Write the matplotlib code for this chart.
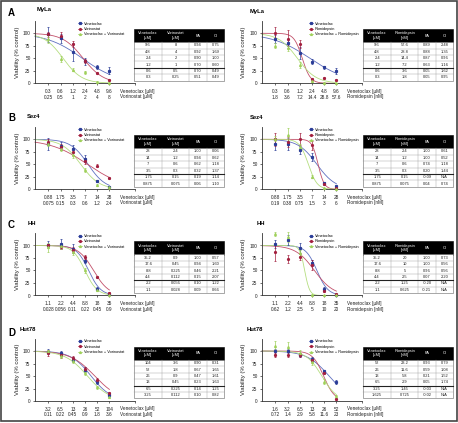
import numpy as np
import matplotlib
matplotlib.use('Agg')
import matplotlib.pyplot as plt
from matplotlib.patches import Rectangle
from matplotlib.lines import Line2D

plt.rcParams['font.family'] = ['Liberation Sans', 'DejaVu Sans']

# ---------------- data ----------------
positions = [1, 2, 3, 4, 5, 6]
yticks = [0, 25, 50, 75, 100]

# A left: MyLa, venetoclax + vorinostat
A1_xven = ["0.3", "0.6", "1.2", "2.4", "4.8", "9.6"]
A1_xdrug = ["0.25", "0.5", "1", "2", "4", "8"]
A1_ven = [98, 90, 63, 44, 32, 25]
A1_ven_err = [15, 9, 18, 7, 4, 7]
A1_drug = [98, 95, 78, 45, 20, 7]
A1_drug_err = [5, 7, 6, 4, 2, 2]
A1_combo = [89, 48, 27, 22, 3, 1]
A1_combo_err = [8, 6, 3, 3, 2, 1]
A1_fit_x50 = [3.78, 3.85, 2.2]
A1_fit_slope = [0.685, 1.2, 1.3]
A1_table = [["9.6", "8", "0.94", "0.75"], ["4.8", "4", "0.92", "1.69"],
            ["2.4", "2", "0.90", "1.00"], ["1.2", "1", "0.70", "0.60"],
            ["0.6", "0.5", "0.70", "0.49"], ["0.3", "0.25", "0.51", "0.49"]]

# A right: MyLa, venetoclax + romidepsin
A2_xven = ["0.3", "0.6", "1.2", "2.4", "4.8", "9.6"]
A2_xdrug = ["1.8", "3.6", "7.2", "14.4", "28.8", "57.6"]
A2_ven = [89, 80, 60, 43, 32, 25]
A2_ven_err = [8, 6, 12, 5, 3, 6]
A2_drug = [100, 88, 78, 8, 11, 7]
A2_drug_err = [12, 18, 8, 3, 2, 2]
A2_combo = [75, 70, 36, 5, 1, 0]
A2_combo_err = [5, 5, 6, 2, 1, 1]
A2_fit_x50 = [3.83, 3.2, 2.8]
A2_fit_slope = [0.64, 3.0, 1.3]
A2_table = [["9.6", "57.6", "0.89", "2.48"], ["4.8", "28.8", "0.88", "1.35"],
            ["2.4", "14.4", "0.87", "0.96"], ["1.2", "7.2", "0.63", "1.16"],
            ["0.6", "3.6", "0.05", "1.62"], ["0.3", "1.8", "0.05", "0.95"]]

# B left: Sez4, venetoclax + vorinostat
B1_xven = ["0.88", "1.75", "3.5", "7", "14", "28"]
B1_xdrug = ["0.075", "0.15", "0.3", "0.6", "1.2", "2.4"]
B1_ven = [91, 87, 81, 61, 16, 5]
B1_ven_err = [12, 8, 8, 7, 2, 1]
B1_drug = [95, 85, 75, 56, 47, 23]
B1_drug_err = [5, 6, 7, 6, 3, 2]
B1_combo = [91, 81, 68, 38, 8, 4]
B1_combo_err = [4, 5, 6, 4, 2, 3]
B1_fit_x50 = [4.25, 4.2, 3.65]
B1_fit_slope = [1.4, 0.65, 1.3]
B1_table = [["28", "2.4", "1.00", "0.06"], ["14", "1.2", "0.94", "0.62"],
            ["7", "0.6", "0.62", "1.18"], ["3.5", "0.3", "0.32", "1.37"],
            ["1.75", "0.15", "0.19", "1.14"], ["0.875", "0.075", "0.06", "1.10"]]

# B right: Sez4, venetoclax + romidepsin
B2_xven = ["0.88", "1.75", "3.5", "7", "14", "28"]
B2_xdrug = ["0.19", "0.38", "0.75", "1.5", "3", "6"]
B2_ven = [91, 90, 78, 65, 12, 6]
B2_ven_err = [12, 12, 8, 8, 3, 1]
B2_drug = [100, 95, 100, 88, 10, 2]
B2_drug_err = [13, 10, 12, 9, 2, 1]
B2_combo = [101, 108, 85, 25, 2, 1]
B2_combo_err = [5, 15, 6, 3, 1, 1]
B2_fit_x50 = [4.4, 4.5, 3.7]
B2_fit_slope = [1.3, 4.0, 2.8]
B2_table = [["28", "2.4", "1.00", "0.61"], ["14", "1.2", "1.00", "0.52"],
            ["7", "0.6", "0.74", "1.18"], ["3.5", "0.3", "0.20", "1.44"],
            ["1.75", "0.15", "-0.09", "N/A"], ["0.875", "0.075", "0.04", "0.74"]]

# C left: HH, venetoclax + vorinostat
C1_xven = ["1.1", "2.2", "4.4", "8.8", "18", "35"]
C1_xdrug = ["0.028", "0.056", "0.11", "0.22", "0.45", "0.9"]
C1_ven = [101, 103, 93, 69, 13, 3]
C1_ven_err = [7, 10, 9, 5, 3, 1]
C1_drug = [100, 96, 91, 76, 36, 5]
C1_drug_err = [3, 4, 5, 4, 2, 2]
C1_combo = [96, 99, 86, 50, 10, 1]
C1_combo_err = [9, 6, 6, 5, 2, 1]
C1_fit_x50 = [4.3, 4.7, 4.0]
C1_fit_slope = [2.0, 1.6, 2.0]
C1_table = [["35.2", "0.9", "1.00", "0.57"], ["17.6", "0.45", "0.94", "1.60"],
            ["8.8", "0.225", "0.46", "2.21"], ["4.4", "0.112", "0.15", "2.07"],
            ["2.2", "0.056", "0.10", "1.22"], ["1.1", "0.028", "0.09", "0.66"]]

# C right: HH, venetoclax + romidepsin
C2_xven = ["1.1", "2.2", "4.4", "8.8", "18", "35"]
C2_xdrug = ["0.62", "1.2", "2.5", "5", "10", "20"]
C2_ven = [103, 110, 95, 64, 13, 1]
C2_ven_err = [8, 10, 10, 6, 3, 1]
C2_drug = [87, 72, 77, 60, 8, 3]
C2_drug_err = [18, 8, 6, 10, 2, 1]
C2_combo = [122, 116, 85, 1, 0, 0]
C2_combo_err = [4, 10, 6, 1, 0, 0]
C2_fit_x50 = [4.4, 4.2, 3.4]
C2_fit_slope = [2.2, 1.3, 5.0]
C2_table = [["35.2", "20", "1.00", "0.73"], ["17.6", "10", "1.00", "0.56"],
            ["8.8", "5", "0.96", "0.56"], ["4.4", "2.5", "0.07", "2.20"],
            ["2.2", "1.25", "-0.20", "N/A"], ["1.1", "0.625", "-0.21", "N/A"]]

# D left: Hut78, venetoclax + vorinostat
D1_xven = ["3.2", "6.5", "13", "26", "52", "104"]
D1_xdrug = ["0.11", "0.22", "0.45", "0.9", "1.8", "3.6"]
D1_ven = [99, 96, 83, 63, 39, 12]
D1_ven_err = [5, 5, 5, 5, 4, 3]
D1_drug = [96, 92, 86, 64, 43, 16]
D1_drug_err = [6, 5, 4, 4, 3, 3]
D1_combo = [100, 90, 80, 56, 28, 8]
D1_combo_err = [3, 4, 4, 3, 3, 2]
D1_fit_x50 = [4.5, 4.8, 4.2]
D1_fit_slope = [1.2, 1.0, 1.1]
D1_table = [["104", "3.6", "0.90", "0.31"], ["52", "1.8", "0.67", "1.65"],
            ["26", "0.9", "0.47", "1.61"], ["13", "0.45", "0.23", "1.63"],
            ["6.5", "0.225", "0.14", "1.25"], ["3.25", "0.112", "0.10", "0.82"]]

# D right: Hut78, venetoclax + romidepsin
D2_xven = ["1.6", "3.2", "6.5", "13", "26", "52"]
D2_xdrug = ["0.72", "1.4", "2.9", "5.8", "11.6", "23"]
D2_ven = [100, 100, 93, 85, 60, 39]
D2_ven_err = [5, 4, 4, 4, 3, 4]
D2_drug = [93, 93, 92, 82, 57, 5]
D2_drug_err = [4, 5, 4, 3, 3, 2]
D2_combo = [111, 109, 97, 79, 39, 10]
D2_combo_err = [10, 10, 5, 6, 5, 3]
D2_fit_x50 = [5.4, 4.95, 4.8]
D2_fit_slope = [1.1, 2.2, 1.6]
D2_table = [["52", "23.2", "0.93", "0.79"], ["26", "11.6", "0.59", "1.08"],
            ["13", "5.8", "0.21", "1.52"], ["6.5", "2.9", "0.05", "1.74"],
            ["3.25", "1.45", "-0.03", "N/A"], ["1.625", "0.725", "-0.02", "N/A"]]

cells = ["MyLa", "Sez4", "HH", "Hut78"]
letters = ["A", "B", "C", "D"]
drugs = ["Vorinostat", "Romidepsin"]
drug_units = ["[µM]", "[nM]"]

# ---------------- styling ----------------
W, H = 458, 423
fig = plt.figure(figsize=(W / 100, H / 100), dpi=100)
fig.patch.set_facecolor('white')

def fx(x):
    return x / W

def fy(y):
    return 1 - y / H

pt_col = ['#2b3d97', '#a3203f', '#9fd05a']
ln_col = ['#5f70c0', '#c2506a', '#b5de80']
markers = ['s', 'o', '^']
FS = 3.4
LFS = 2.8

zero_y = [83.3, 189.3, 295.5, 401.0]
ax_x0 = [35.0, 262.0]
title_pos = [[(37, 10), (250, 11)], [(27, 116), (250, 117)],
             [(28, 223), (257, 223)], [(20, 329), (247, 329)]]
letter_pos = [(8, 13), (8, 118), (8, 225), (8, 333)]
table_x0 = [134.0, 363.0]
col_w = [28.3, 26.7, 17.7, 17.3]

data = {
    (0, 0): (A1_xven, A1_xdrug, A1_ven, A1_ven_err, A1_drug, A1_drug_err, A1_combo, A1_combo_err, A1_fit_x50, A1_fit_slope, A1_table),
    (0, 1): (A2_xven, A2_xdrug, A2_ven, A2_ven_err, A2_drug, A2_drug_err, A2_combo, A2_combo_err, A2_fit_x50, A2_fit_slope, A2_table),
    (1, 0): (B1_xven, B1_xdrug, B1_ven, B1_ven_err, B1_drug, B1_drug_err, B1_combo, B1_combo_err, B1_fit_x50, B1_fit_slope, B1_table),
    (1, 1): (B2_xven, B2_xdrug, B2_ven, B2_ven_err, B2_drug, B2_drug_err, B2_combo, B2_combo_err, B2_fit_x50, B2_fit_slope, B2_table),
    (2, 0): (C1_xven, C1_xdrug, C1_ven, C1_ven_err, C1_drug, C1_drug_err, C1_combo, C1_combo_err, C1_fit_x50, C1_fit_slope, C1_table),
    (2, 1): (C2_xven, C2_xdrug, C2_ven, C2_ven_err, C2_drug, C2_drug_err, C2_combo, C2_combo_err, C2_fit_x50, C2_fit_slope, C2_table),
    (3, 0): (D1_xven, D1_xdrug, D1_ven, D1_ven_err, D1_drug, D1_drug_err, D1_combo, D1_combo_err, D1_fit_x50, D1_fit_slope, D1_table),
    (3, 1): (D2_xven, D2_xdrug, D2_ven, D2_ven_err, D2_drug, D2_drug_err, D2_combo, D2_combo_err, D2_fit_x50, D2_fit_slope, D2_table),
}


def draw_table(x0, ytop, header, rows):
    header_h = 13.5
    row_h = 6.4
    total_w = sum(col_w)
    fig.patches.append(Rectangle((fx(x0), fy(ytop + header_h)), fx(total_w), header_h / H,
                                 transform=fig.transFigure, facecolor='black',
                                 edgecolor='black', lw=0.4))
    cx = x0
    for j, w in enumerate(col_w):
        fig.text(fx(cx + w / 2), fy(ytop + header_h / 2), header[j], color='white',
                 fontsize=2.9, ha='center', va='center', linespacing=1.15)
        cx += w
    yb = ytop + header_h
    body_h = row_h * len(rows)
    fig.patches.append(Rectangle((fx(x0), fy(yb + body_h)), fx(total_w), body_h / H,
                                 transform=fig.transFigure, facecolor='white',
                                 edgecolor='#666666', lw=0.4))
    cx = x0
    for j, w in enumerate(col_w[:-1]):
        cx += w
        fig.lines.append(Line2D([fx(cx), fx(cx)], [fy(yb), fy(yb + body_h)],
                                transform=fig.transFigure, color='#9a9a9a', lw=0.3))
    for i, row in enumerate(rows):
        ry = yb + i * row_h
        if i > 0:
            thick = (i == 4)
            fig.lines.append(Line2D([fx(x0), fx(x0 + total_w)], [fy(ry), fy(ry)],
                                    transform=fig.transFigure,
                                    color='#222222' if thick else '#9a9a9a',
                                    lw=0.8 if thick else 0.3))
        cx = x0
        for j, w in enumerate(col_w):
            fig.text(fx(cx + w / 2), fy(ry + row_h / 2), row[j], color='#222222',
                     fontsize=2.9, ha='center', va='center')
            cx += w


xs_fit = np.linspace(-0.1, 6.0, 200)

for r in range(4):
    z = zero_y[r]
    fig.text(fx(letter_pos[r][0]), fy(letter_pos[r][1]), letters[r], fontsize=7,
             fontweight='bold', ha='left', va='center')
    for c in range(2):
        (xven, xdrug, ven, ven_e, drg, drg_e, cmb, cmb_e, x50s, slopes, table) = data[(r, c)]
        axh = 62.5
        ax = fig.add_axes([fx(ax_x0[c]), fy(z), 100 / W, axh / H])
        ax.set_xlim(-0.1, 8.1)
        ax.set_ylim(0, 125)
        for s in ['top', 'right']:
            ax.spines[s].set_visible(False)
        for s in ['left', 'bottom']:
            ax.spines[s].set_linewidth(0.6)
            ax.spines[s].set_color('#333333')
        ax.set_yticks(yticks)
        ax.set_yticklabels([str(v) for v in yticks])
        ax.set_xticks(positions)
        ax.set_xticklabels([a + "\n" + b for a, b in zip(xven, xdrug)])
        ax.set_xticks([8.1], minor=True)
        ax.tick_params(axis='both', which='both', length=1.6, width=0.5, color='#333333',
                       labelsize=FS, pad=1.6, labelcolor='#222222')
        ax.tick_params(axis='x', pad=2.4)
        ax.set_ylabel("Viability (% control)", fontsize=4.3, color='#222222')
        ax.yaxis.set_label_coords(-0.15 if c == 0 else -0.16, 0.5)

        series = [(ven, ven_e), (drg, drg_e), (cmb, cmb_e)]
        for k, (vals, errs) in enumerate(series):
            fit = 100.0 / (1.0 + np.exp(slopes[k] * (xs_fit - x50s[k])))
            ax.plot(xs_fit, fit, color=ln_col[k], lw=0.6, zorder=2, clip_on=False)
            ax.errorbar(positions, vals, yerr=errs, fmt=markers[k], ms=1.3,
                        color=pt_col[k], ecolor=pt_col[k], elinewidth=0.5,
                        capsize=0.8, capthick=0.5, zorder=3, clip_on=False)

        drug = drugs[c]
        labels = ["Venetoclax", drug, "Venetoclax + " + drug]
        handles = [Line2D([], [], color=ln_col[k], lw=0.6, marker=markers[k], ms=1.3,
                          mfc=pt_col[k], mec=pt_col[k]) for k in range(3)]
        ax.legend(handles, labels, loc='upper left',
                  bbox_to_anchor=(0.43 if c == 0 else 0.47, 0.985),
                  frameon=False, fontsize=LFS, handlelength=1.1, handletextpad=0.45,
                  labelspacing=0.35, borderpad=0, borderaxespad=0)

        fig.text(fx(ax_x0[c] + 85), fy(z + 5.3),
                 "Venetoclax [µM]\n" + drug + " " + drug_units[c],
                 fontsize=FS, ha='left', va='top', linespacing=1.2, color='#222222')

        tx, ty = title_pos[r][c]
        fig.text(fx(tx), fy(ty), cells[r], fontsize=4.2, fontweight='bold',
                 ha='left', va='center')

        header = ["Venetoclax\n[µM]", drug + "\n" + drug_units[c], "FA", "CI"]
        draw_table(table_x0[c], z - 54.5, header, table)

# outer frame
fig.patches.append(Rectangle((0.002, 0.004), 0.996, 0.993, transform=fig.transFigure,
                             fill=False, edgecolor='#444444', lw=1.2))

fig.savefig('out.png', dpi=100)
